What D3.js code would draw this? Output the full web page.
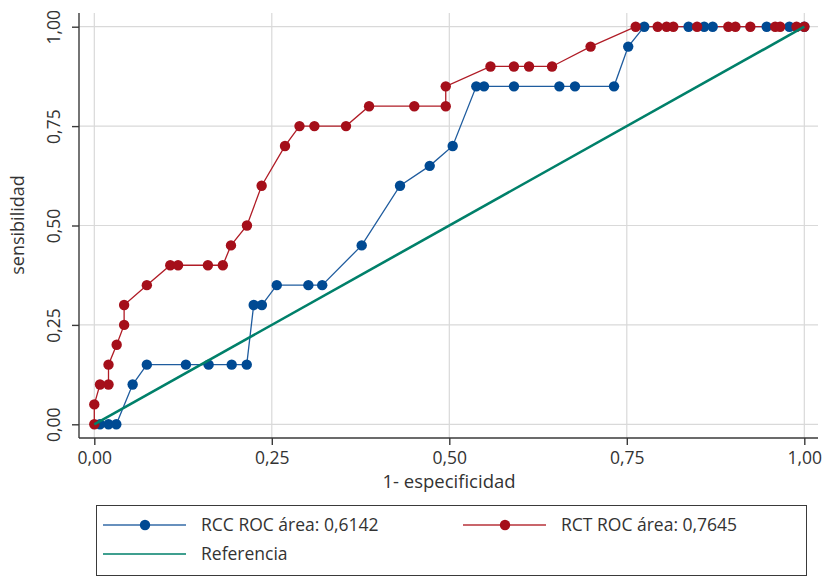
<!DOCTYPE html>
<html lang="es">
<head>
  <meta charset="UTF-8">
  <title>ROC</title>
  <script src="https://d3js.org/d3.v7.min.js"></script>
  <style>
    html, body {
      margin: 0;
      background-color: #ffffff;
      font-family: "Open Sans", sans-serif;
    }
  </style>
</head>
<body>
  <div id="chart"></div>
  <script>
    // RCC curve (1 - especificidad, sensibilidad)
    const rccX = [0.008, 0.02, 0.031, 0.054, 0.074, 0.129, 0.161, 0.1935, 0.2147, 0.2245, 0.236, 0.257, 0.3015, 0.321, 0.3766, 0.4306, 0.4724, 0.5048, 0.538, 0.5489, 0.5911, 0.655, 0.677, 0.732, 0.752, 0.7746, 0.837, 0.859, 0.871, 0.947, 0.979, 1.0]
    const rccY = [0, 0, 0, 0.1, 0.15, 0.15, 0.15, 0.15, 0.15, 0.3, 0.3, 0.35, 0.35, 0.35, 0.45, 0.6, 0.65, 0.7, 0.85, 0.85, 0.85, 0.85, 0.85, 0.85, 0.95, 1, 1, 1, 1, 1, 1, 1]

    // RCT curve
    const rctX = [0, 0, 0.008, 0.02, 0.02, 0.0315, 0.042, 0.042, 0.074, 0.107, 0.118, 0.16, 0.181, 0.1925, 0.215, 0.2357, 0.2686, 0.289, 0.31, 0.3545, 0.387, 0.4507, 0.495, 0.495, 0.558, 0.591, 0.6123, 0.6447, 0.699, 0.7625, 0.7935, 0.806, 0.8155, 0.849, 0.893, 0.903, 0.924, 0.959, 0.966, 0.989, 1.0]
    const rctY = [0, 0.05, 0.1, 0.1, 0.15, 0.2, 0.25, 0.3, 0.35, 0.4, 0.4, 0.4, 0.4, 0.45, 0.5, 0.6, 0.7, 0.75, 0.75, 0.75, 0.8, 0.8, 0.8, 0.85, 0.9, 0.9, 0.9, 0.9, 0.95, 1, 1, 1, 1, 1, 1, 1, 1, 1, 1, 1, 1]

    const refX = [0, 1]
    const refY = [0, 1]

    const tickValues = [0, 0.25, 0.5, 0.75, 1]
    const legendLabels = ['RCC ROC área: 0,6142', 'RCT ROC área: 0,7645', 'Referencia']

    const colors = {
      rccLine: '#1f5c9e',
      rccDot: '#004a93',
      rctLine: '#b01c26',
      rctDot: '#a50f1a',
      ref: '#00806a',
      grid: '#d9d9d9',
      axis: '#3a3a3a',
      text: '#333333',
    }

    const width = 822
    const height = 577
    const plot = { left: 79, right: 818, top: 13, bottom: 438 }

    const x = d3.scaleLinear().domain([0, 1]).range([94.3, 804.3])
    const y = d3.scaleLinear().domain([0, 1]).range([424.3, 26.7])
    const fmt = d => d3.format('.2f')(d).replace('.', ',')

    const svg = d3.select('#chart').append('svg')
      .attr('width', width)
      .attr('height', height)

    // grid
    svg.append('g')
      .selectAll('line')
      .data(tickValues)
      .join('line')
      .attr('x1', plot.left).attr('x2', plot.right)
      .attr('y1', d => y(d)).attr('y2', d => y(d))
      .style('stroke', colors.grid)
      .style('stroke-width', 1.2)

    svg.append('g')
      .selectAll('line')
      .data(tickValues)
      .join('line')
      .attr('x1', d => x(d)).attr('x2', d => x(d))
      .attr('y1', plot.top).attr('y2', plot.bottom)
      .style('stroke', colors.grid)
      .style('stroke-width', 1.2)

    // axes
    const yAxis = svg.append('g')
      .attr('transform', `translate(${plot.left},0)`)
      .call(d3.axisLeft(y).tickValues(tickValues).tickFormat(fmt).tickSize(7).tickSizeOuter(0))
    yAxis.select('.domain').attr('d', `M0,${plot.top}V${plot.bottom}`)
    yAxis.selectAll('text')
      .attr('x', null).attr('dy', null)
      .attr('transform', 'translate(-19,0) rotate(-90)')
      .style('text-anchor', 'middle')

    const xAxis = svg.append('g')
      .attr('transform', `translate(0,${plot.bottom})`)
      .call(d3.axisBottom(x).tickValues(tickValues).tickFormat(fmt).tickSize(7).tickSizeOuter(0))
    xAxis.select('.domain').attr('d', `M${plot.left},0H${plot.right}`)
    xAxis.selectAll('text').attr('y', 14).attr('dy', '0.71em')

    svg.selectAll('.domain, .tick line')
      .style('stroke', colors.axis)
      .style('stroke-width', 1.4)
    svg.selectAll('.tick text')
      .style('font-family', '"Open Sans", sans-serif')
      .style('font-size', '17.5px')
      .style('fill', colors.text)

    // axis titles
    svg.append('text')
      .text('1- especificidad')
      .attr('x', 449)
      .attr('y', 488)
      .style('text-anchor', 'middle')
      .style('font-size', '18.5px')
      .style('fill', colors.text)

    svg.append('text')
      .text('sensibilidad')
      .attr('transform', 'translate(24,225) rotate(-90)')
      .style('text-anchor', 'middle')
      .style('font-size', '18px')
      .style('fill', colors.text)

    // curves
    const line = d3.line().x(d => x(d[0])).y(d => y(d[1]))
    const zip = (a, b) => a.map((v, i) => [v, b[i]])

    const rcc = zip(rccX, rccY)
    const rct = zip(rctX, rctY)

    svg.append('path')
      .attr('d', line(rcc))
      .style('fill', 'none')
      .style('stroke', colors.rccLine)
      .style('stroke-width', 1.3)

    svg.append('path')
      .attr('d', line(rct))
      .style('fill', 'none')
      .style('stroke', colors.rctLine)
      .style('stroke-width', 1.3)

    svg.append('g')
      .selectAll('circle')
      .data(rcc)
      .join('circle')
      .attr('cx', d => x(d[0]))
      .attr('cy', d => y(d[1]))
      .attr('r', 5.2)
      .style('fill', colors.rccDot)

    svg.append('g')
      .selectAll('circle')
      .data(rct)
      .join('circle')
      .attr('cx', d => x(d[0]))
      .attr('cy', d => y(d[1]))
      .attr('r', 5.2)
      .style('fill', colors.rctDot)

    svg.append('path')
      .attr('d', line(zip(refX, refY)))
      .style('fill', 'none')
      .style('stroke', colors.ref)
      .style('stroke-width', 2.6)

    // legend
    const legend = svg.append('g')
    legend.append('rect')
      .attr('x', 96.5).attr('y', 505.5)
      .attr('width', 710).attr('height', 70)
      .style('fill', 'none')
      .style('stroke', colors.axis)
      .style('stroke-width', 1)

    const legendItems = [
      { label: legendLabels[0], x: 103, y: 525, line: colors.rccLine, dot: colors.rccDot },
      { label: legendLabels[1], x: 463, y: 525, line: colors.rctLine, dot: colors.rctDot },
      { label: legendLabels[2], x: 103, y: 554, line: colors.ref, dot: null },
    ]

    const item = legend.selectAll('.item')
      .data(legendItems)
      .join('g')
      .attr('class', 'item')
      .attr('transform', d => `translate(${d.x},${d.y})`)

    item.append('line')
      .attr('x1', 0).attr('x2', 83)
      .style('stroke', d => d.line)
      .style('stroke-width', d => d.dot ? 1.4 : 2)
      .style('opacity', d => d.dot ? 0.9 : 0.75)

    item.filter(d => d.dot)
      .append('circle')
      .attr('cx', 42).attr('r', 5.2)
      .style('fill', d => d.dot)

    item.append('text')
      .text(d => d.label)
      .attr('x', 98)
      .attr('dy', '0.35em')
      .style('font-size', '17.5px')
      .style('fill', colors.text)
  </script>
</body>
</html>
